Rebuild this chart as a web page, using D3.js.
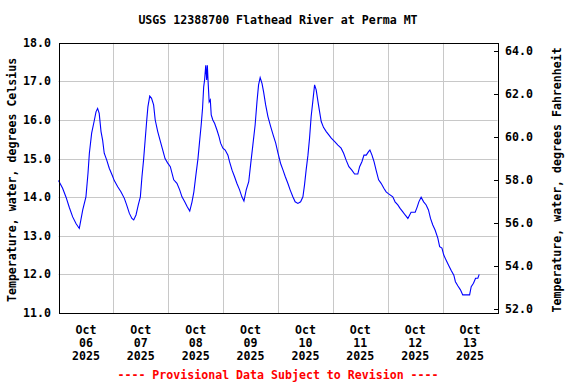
<!DOCTYPE html>
<html>
<head>
<meta charset="utf-8">
<script src="https://cdn.jsdelivr.net/npm/d3@7"></script>
<style>
  html, body { margin: 0; padding: 0; background: #fff; }
  svg { display: block; }
  text { font-family: "DejaVu Sans Mono", "Liberation Mono", monospace; font-weight: bold; font-size: 11.6px; fill: #000; }
</style>
</head>
<body>
<script>
const title = "USGS 12388700 Flathead River at Perma MT";
const leftLabel = "Temperature, water, degrees Celsius";
const rightLabel = "Temperature, water, degrees Fahrenheit";
const footnote = "---- Provisional Data Subject to Revision ----";

const celsiusTicks = [11, 12, 13, 14, 15, 16, 17, 18];
const fahrenheitTicks = [52, 54, 56, 58, 60, 62, 64];
const dayMonths = ["Oct", "Oct", "Oct", "Oct", "Oct", "Oct", "Oct", "Oct"];
const dayNumbers = ["06", "07", "08", "09", "10", "11", "12", "13"];
const dayYears = ["2025", "2025", "2025", "2025", "2025", "2025", "2025", "2025"];

// hours since 2025-10-06 00:00
const hours = [0, 1.8, 3.3, 4.7, 6.2, 7.7, 9.1, 10.6, 12.0, 12.9, 13.5, 14.5, 15.7, 16.4, 17.1, 17.8, 18.6, 19.3, 20.0, 21.1, 22.2, 23.4,
  24.4, 25.9, 27.3, 28.8, 29.8, 31.0, 32.1, 32.9, 33.9, 34.9, 35.8, 36.5, 37.2, 37.9, 38.6, 39.1, 39.9, 40.7, 41.6, 42.3, 43.4, 44.4, 45.6, 46.6, 47.7,
  48.9, 50.4, 51.8, 53.0, 54.0, 55.2, 56.3, 57.4, 58.4, 59.2, 60.1, 61.0, 61.7, 62.4, 63.0, 63.5, 63.9, 64.4, 64.8, 65.1, 65.5, 65.9, 66.4, 66.8, 67.5, 68.3, 69.3, 70.2, 70.9, 71.9,
  72.9, 74.1, 74.8, 75.9, 77.0, 78.0, 79.2, 80.2, 81.1, 82.1, 83.2, 84.0, 85.0, 86.0, 86.8, 87.5, 88.2, 89.0, 89.7, 90.6, 91.6, 92.8, 93.9, 95.0,
  96.0, 97.1, 98.2, 99.2, 100.3, 101.3, 102.5, 103.5, 104.7, 105.9, 106.9, 107.6, 108.3, 109.1, 109.8, 110.5, 111.3, 112.0, 112.7, 113.5, 114.2, 114.9, 115.9, 117.1, 118.3, 119.3,
  120.8, 122.2, 123.6, 124.7, 125.8, 127.0, 128.3, 129.5, 130.9, 131.7, 132.7, 133.6, 134.6, 135.6, 136.2, 137.1, 138.0, 138.9, 140.0, 141.1, 142.3, 143.3,
  144.1, 146.2, 147.2, 148.4, 149.4, 150.6, 151.6, 152.8, 154.2, 156.0, 156.9, 157.6, 158.6, 159.7, 160.8, 161.8, 162.7, 163.7, 164.7, 165.9, 166.7, 167.7,
  168.5, 169.5, 170.6, 171.7, 172.9, 173.6, 174.7, 175.8, 176.8, 179.8, 180.5, 181.5, 182.4, 183.4, 184.0];
const tempC = [14.43, 14.23, 14.0, 13.74, 13.49, 13.31, 13.19, 13.67, 14.01, 14.62, 15.14, 15.66, 16.0, 16.21, 16.30, 16.17, 15.70, 15.48, 15.14, 14.96, 14.75, 14.58,
  14.43, 14.27, 14.14, 13.97, 13.80, 13.58, 13.45, 13.41, 13.54, 13.80, 14.01, 14.53, 14.96, 15.48, 16.0, 16.34, 16.62, 16.56, 16.39, 16.0, 15.70, 15.48, 15.22, 15.0, 14.89,
  14.79, 14.45, 14.36, 14.19, 14.01, 13.88, 13.75, 13.64, 13.88, 14.14, 14.58, 15.0, 15.44, 15.87, 16.30, 16.86, 17.04, 17.42, 17.04, 17.42, 16.91, 16.47, 16.52, 16.13, 16.0, 15.91, 15.74, 15.57, 15.40, 15.27,
  15.22, 15.09, 14.92, 14.70, 14.53, 14.36, 14.19, 14.01, 13.90, 14.19, 14.40, 14.83, 15.35, 15.87, 16.47, 16.91, 17.10, 16.95, 16.73, 16.39, 16.09, 15.83, 15.61, 15.40,
  15.14, 14.88, 14.70, 14.53, 14.36, 14.19, 14.01, 13.88, 13.84, 13.88, 14.01, 14.32, 14.70, 15.09, 15.53, 16.09, 16.52, 16.91, 16.78, 16.47, 16.21, 15.96, 15.81, 15.70, 15.61, 15.53,
  15.44, 15.35, 15.27, 15.14, 14.96, 14.79, 14.70, 14.60, 14.60, 14.79, 14.92, 15.09, 15.09, 15.18, 15.22, 15.09, 14.92, 14.70, 14.45, 14.36, 14.23, 14.14,
  14.10, 14.01, 13.88, 13.80, 13.71, 13.62, 13.54, 13.45, 13.61, 13.61, 13.75, 13.88, 14.0, 13.88, 13.80, 13.67, 13.45, 13.28, 13.15, 12.94, 12.72, 12.68,
  12.50, 12.37, 12.24, 12.11, 11.98, 11.81, 11.70, 11.60, 11.47, 11.47, 11.68, 11.77, 11.90, 11.90, 12.0];

const W = 576, H = 384;
const pLeft = 58.5, pRight = 497.5, pTop = 42.8, pBottom = 313;
const start = new Date(2025, 9, 6);
const end = new Date(2025, 9, 14);
const day = 24 * 3600 * 1000;

const x = d3.scaleTime().domain([start, end]).range([pLeft, pRight]);
const y = d3.scaleLinear().domain([11, 18]).range([pBottom, pTop]);
const yF = d3.scaleLinear().domain([11 * 1.8 + 32, 18 * 1.8 + 32]).range([pBottom, pTop]);

const svg = d3.select("body").append("svg").attr("width", W).attr("height", H);

// grid
const dayBounds = d3.range(1, 8).map(i => new Date(start.getTime() + i * day));
svg.append("g").selectAll("line").data(dayBounds).join("line")
  .attr("x1", d => Math.round(x(d)) + 0.5).attr("x2", d => Math.round(x(d)) + 0.5)
  .attr("y1", pTop).attr("y2", pBottom)
  .attr("stroke", "#c8c8c8").attr("stroke-width", 1);
svg.append("g").selectAll("line").data(celsiusTicks.slice(1, -1)).join("line")
  .attr("x1", pLeft).attr("x2", pRight)
  .attr("y1", d => Math.round(y(d)) + 0.5).attr("y2", d => Math.round(y(d)) + 0.5)
  .attr("stroke", "#c8c8c8").attr("stroke-width", 1);

// data line
const pts = hours.map((h, i) => ({ t: new Date(start.getTime() + h * 3600 * 1000), v: tempC[i] }));
const line = d3.line().x(d => x(d.t)).y(d => y(d.v));
svg.append("path").datum(pts).attr("d", line)
  .attr("fill", "none").attr("stroke", "#0000ff").attr("stroke-width", 1.1);

// frame
svg.append("rect").attr("x", Math.round(pLeft) + 0.5).attr("y", Math.round(pTop) + 0.5)
  .attr("width", Math.round(pRight) - Math.round(pLeft)).attr("height", Math.round(pBottom) - Math.round(pTop))
  .attr("fill", "none").attr("stroke", "#000").attr("stroke-width", 1);

// left axis labels
svg.append("g").selectAll("text").data(celsiusTicks).join("text")
  .attr("x", 51).attr("y", d => y(d)).attr("text-anchor", "end").attr("dominant-baseline", "central")
  .text(d => d.toFixed(1));

// right axis ticks & labels
svg.append("g").selectAll("line").data(fahrenheitTicks).join("line")
  .attr("x1", Math.round(pRight) - 4).attr("x2", Math.round(pRight) + 0.5)
  .attr("y1", d => Math.round(yF(d)) + 0.5).attr("y2", d => Math.round(yF(d)) + 0.5)
  .attr("stroke", "#000");
svg.append("g").selectAll("text").data(fahrenheitTicks).join("text")
  .attr("x", 505).attr("y", d => yF(d)).attr("text-anchor", "start").attr("dominant-baseline", "central")
  .text(d => d.toFixed(1));

// x labels
const mid = dayNumbers.map((d, i) => new Date(start.getTime() + (i + 0.5) * day));
const xl = svg.append("g");
mid.forEach((m, i) => {
  const cx = x(m);
  [dayMonths[i], dayNumbers[i], dayYears[i]].forEach((s, k) => {
    xl.append("text").attr("x", cx).attr("y", 330 + k * 13).attr("text-anchor", "middle")
      .attr("dominant-baseline", "central").text(s);
  });
});

// title & footnote
svg.append("text").attr("x", (pLeft + pRight) / 2).attr("y", 20).attr("text-anchor", "middle")
  .attr("dominant-baseline", "central").text(title);
svg.append("text").attr("x", (pLeft + pRight) / 2).attr("y", 375).attr("text-anchor", "middle")
  .attr("dominant-baseline", "central").style("fill", "#ff0000").text(footnote);

// axis titles
svg.append("text").attr("transform", `translate(12,${(pTop + pBottom) / 2 + 2}) rotate(-90)`)
  .attr("text-anchor", "middle").attr("dominant-baseline", "central").text(leftLabel);
svg.append("text").attr("transform", `translate(557,${(pTop + pBottom) / 2 + 2}) rotate(-90)`)
  .attr("text-anchor", "middle").attr("dominant-baseline", "central").text(rightLabel);
</script>
</body>
</html>
